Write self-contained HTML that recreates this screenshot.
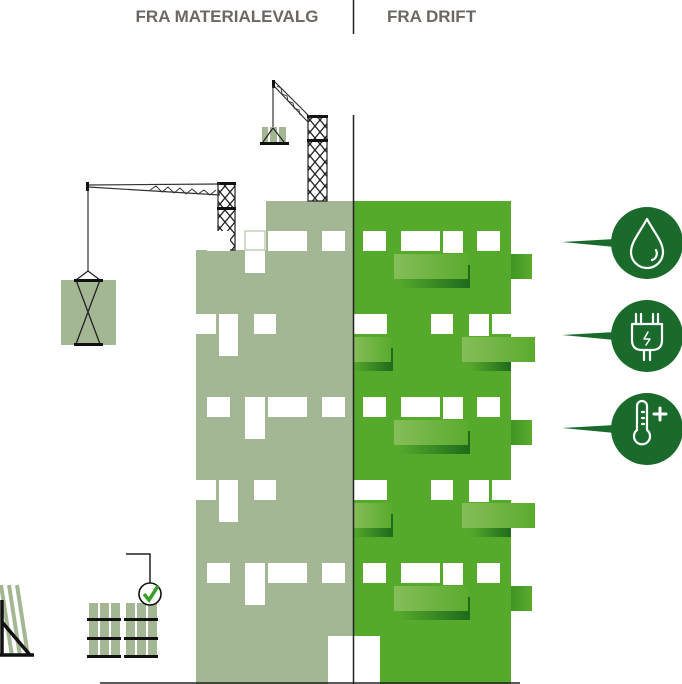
<!DOCTYPE html>
<html><head><meta charset="utf-8"><style>
html,body{margin:0;padding:0;background:#fff;}
svg{display:block;}
</style></head><body>
<svg width="682" height="684" viewBox="0 0 682 684" xmlns="http://www.w3.org/2000/svg">
<defs>
<linearGradient id="bal" x1="0" x2="1" y1="0" y2="0">
<stop offset="0" stop-color="#86bd59"/><stop offset="1" stop-color="#5aab2e"/></linearGradient>
<linearGradient id="sh" x1="0" x2="1" y1="0" y2="0">
<stop offset="0" stop-color="#56a92c"/><stop offset="1" stop-color="#1f6a1c"/></linearGradient>
<linearGradient id="side" x1="0" x2="1"><stop offset="0" stop-color="#3f9524"/><stop offset="1" stop-color="#5aab2e"/></linearGradient>
<pattern id="lat" width="10" height="12" patternUnits="userSpaceOnUse">
<path d="M0 0 L10 12 M10 0 L0 12" stroke="#222" stroke-width="1.3"/></pattern>
</defs>

<text x="227" y="22" text-anchor="middle" font-family="Liberation Sans, sans-serif" font-weight="bold" font-size="17" fill="#6e6761">FRA MATERIALEVALG</text>
<text x="387" y="22" font-family="Liberation Sans, sans-serif" font-weight="bold" font-size="17" fill="#6e6761">FRA DRIFT</text>
<line x1="353.5" y1="0" x2="353.5" y2="34" stroke="#222" stroke-width="1.5"/>

<path d="M196 250 H266 V201 H353 V684 H196 Z" fill="#a3b794"/>
<rect x="353" y="201" width="158" height="483" fill="#55aa2c"/>

<!-- crane 1 -->
<rect x="218" y="183" width="17" height="67" fill="url(#lat)" stroke="#222" stroke-width="1.2"/>
<rect x="217" y="182" width="19" height="3" fill="#111"/>
<rect x="217" y="207" width="19" height="3" fill="#111"/>
<path d="M88 185 L220 184 M88 187 L220 195" stroke="#333" stroke-width="1.2" fill="none"/>
<path d="M150 190 L156 186 L162 192 L168 187 L174 193 L180 188 L186 194 L192 189 L198 194 L204 190 L210 195 L216 190" stroke="#333" stroke-width="1" fill="none"/>
<rect x="86" y="182" width="3" height="9" fill="#111"/>
<line x1="88" y1="190" x2="88" y2="271" stroke="#333" stroke-width="1.2"/>
<rect x="61" y="280" width="55" height="65" fill="#a3b794"/>
<path d="M88 271 L76 280 M88 271 L100 280 M76 280 L100 344 M100 280 L76 344" stroke="#222" stroke-width="1.3" fill="none"/>
<rect x="74" y="279" width="29" height="3" fill="#111"/>
<rect x="74" y="343" width="29" height="3" fill="#111"/>

<!-- crane 2 -->
<rect x="308" y="116" width="19" height="85" fill="url(#lat)" stroke="#222" stroke-width="1.2"/>
<rect x="307" y="115" width="21" height="3" fill="#111"/>
<rect x="307" y="139" width="21" height="3" fill="#111"/>
<path d="M274 81 L311 118 M274 86 L308 122" stroke="#333" stroke-width="1.2"/>
<path d="M277 86 L281 88 L282 94 L287 96 L288 101 L293 103 L294 108 L299 110 L300 115" stroke="#333" stroke-width="0.9" fill="none"/>
<rect x="272" y="80" width="3" height="8" fill="#111"/>
<line x1="273" y1="86" x2="273" y2="128" stroke="#333" stroke-width="1.2"/>
<rect x="262" y="127" width="24" height="16" fill="#a3b794"/>
<rect x="268" y="127" width="2" height="16" fill="#fff"/><rect x="277" y="127" width="2" height="16" fill="#fff"/>
<path d="M273 128 L263 142 M273 128 L284 142" stroke="#222" stroke-width="1.2" fill="none"/>
<rect x="260" y="142" width="29" height="3" fill="#111"/>

<rect x="208.5" y="231.5" width="21" height="19" fill="none" stroke="#a3b794" stroke-width="1"/>

<g fill="#fff">
<g id="fa">
<rect x="207" y="231" width="23" height="20"/>
<rect x="245" y="231" width="20" height="42"/>
<rect x="268" y="231" width="39" height="20"/>
<rect x="322" y="231" width="23" height="20"/>
<rect x="363" y="231" width="23" height="20"/>
<rect x="401" y="231" width="39" height="20"/>
<rect x="443" y="231" width="20" height="22"/>
<rect x="477" y="231" width="23" height="20"/>
<rect x="398" y="265" width="72" height="23" fill="url(#sh)"/>
<rect x="394" y="254" width="74" height="25" fill="url(#bal)"/>
<rect x="511" y="254" width="21" height="25" fill="url(#side)"/>
</g>
<use href="#fa" y="166"/>
<use href="#fa" y="332"/>
<g id="fb">
<rect x="196" y="314" width="20" height="20"/>
<rect x="219" y="314" width="19" height="42"/>
<rect x="254" y="314" width="22" height="20"/>
<rect x="354" y="314" width="33" height="20"/>
<rect x="431" y="314" width="22" height="20"/>
<rect x="469" y="314" width="20" height="22"/>
<rect x="492" y="314" width="19" height="20"/>
<rect x="353" y="348" width="40" height="23" fill="url(#sh)"/>
<rect x="353" y="337" width="38" height="25" fill="url(#bal)"/>
<rect x="470" y="348" width="41" height="23" fill="url(#sh)"/>
<rect x="462" y="337" width="73" height="25" fill="url(#bal)"/>
</g>
<use href="#fb" y="166"/>
<rect x="328" y="636" width="52" height="48"/>
</g>
<rect x="245" y="231" width="20" height="19" fill="none" stroke="#a3b794" stroke-width="1"/>

<line x1="353.5" y1="115" x2="353.5" y2="684" stroke="#222" stroke-width="1.5"/>
<line x1="100" y1="683" x2="520" y2="683" stroke="#222" stroke-width="1.5"/>

<path d="M1 585 L12 656 M9 585 L20 656 M17 585 L28 656" stroke="#a3b794" stroke-width="4"/>
<path d="M2 600 V656 M2 622 L30 655 M0 655 H34" stroke="#111" stroke-width="3.5" fill="none"/>

<g fill="#a3b794">
<rect x="89" y="603" width="9" height="53"/><rect x="100" y="603" width="9" height="53"/><rect x="111" y="603" width="9" height="53"/>
<rect x="126" y="603" width="9" height="53"/><rect x="137" y="603" width="9" height="53"/><rect x="148" y="603" width="9" height="53"/>
</g>
<g fill="#111">
<rect x="87" y="618" width="34" height="3"/><rect x="124" y="618" width="34" height="3"/>
<rect x="87" y="637" width="34" height="3"/><rect x="124" y="637" width="34" height="3"/>
<rect x="87" y="655" width="34" height="3"/><rect x="124" y="655" width="34" height="3"/>
</g>
<path d="M126 554 H150 V583" stroke="#222" stroke-width="1.5" fill="none"/>
<circle cx="150" cy="594" r="11" fill="#fff" stroke="#111" stroke-width="1.6"/>
<path d="M144 594 L149 600 L158 586" stroke="#3a9e2a" stroke-width="3.5" fill="none"/>

<g fill="#1a6a2c">
<path d="M562 242 L615 239 L615 247 Z"/>
<circle cx="647" cy="243" r="36"/>
<path d="M562 335 L615 332 L615 340 Z"/>
<circle cx="647" cy="336" r="36"/>
<path d="M562 428 L615 425 L615 433 Z"/>
<circle cx="647" cy="429" r="36"/>
</g>
<g stroke="#fff" stroke-width="2.2" fill="none" stroke-linecap="round" stroke-linejoin="round">
<path d="M647 219 C640 232 631 242 631 252 A16 16 0 0 0 663 252 C663 242 654 232 647 219 Z"/>
<path d="M656 250 C658 254 656 259 652 260"/>
<path d="M636 314 V324 M641 314 V324 M653 314 V324 M658 314 V324"/>
<path d="M632 324 H662 V340 Q662 350 652 350 H642 Q632 350 632 340 Z"/>
<path d="M644 350 V360 M650 350 V360"/>
<path d="M648 332 L644 339 H650 L646 345" stroke-width="1.5"/>
<path d="M637 406 V430 A8 8 0 1 0 647 430 V406 A5 5 0 0 0 637 406 Z"/>
<path d="M642 412 H644 M642 418 H644 M642 424 H644"/>
<path d="M660 408 V420 M654 414 H666" stroke-width="3"/>
</g>
</svg>
</body></html>
